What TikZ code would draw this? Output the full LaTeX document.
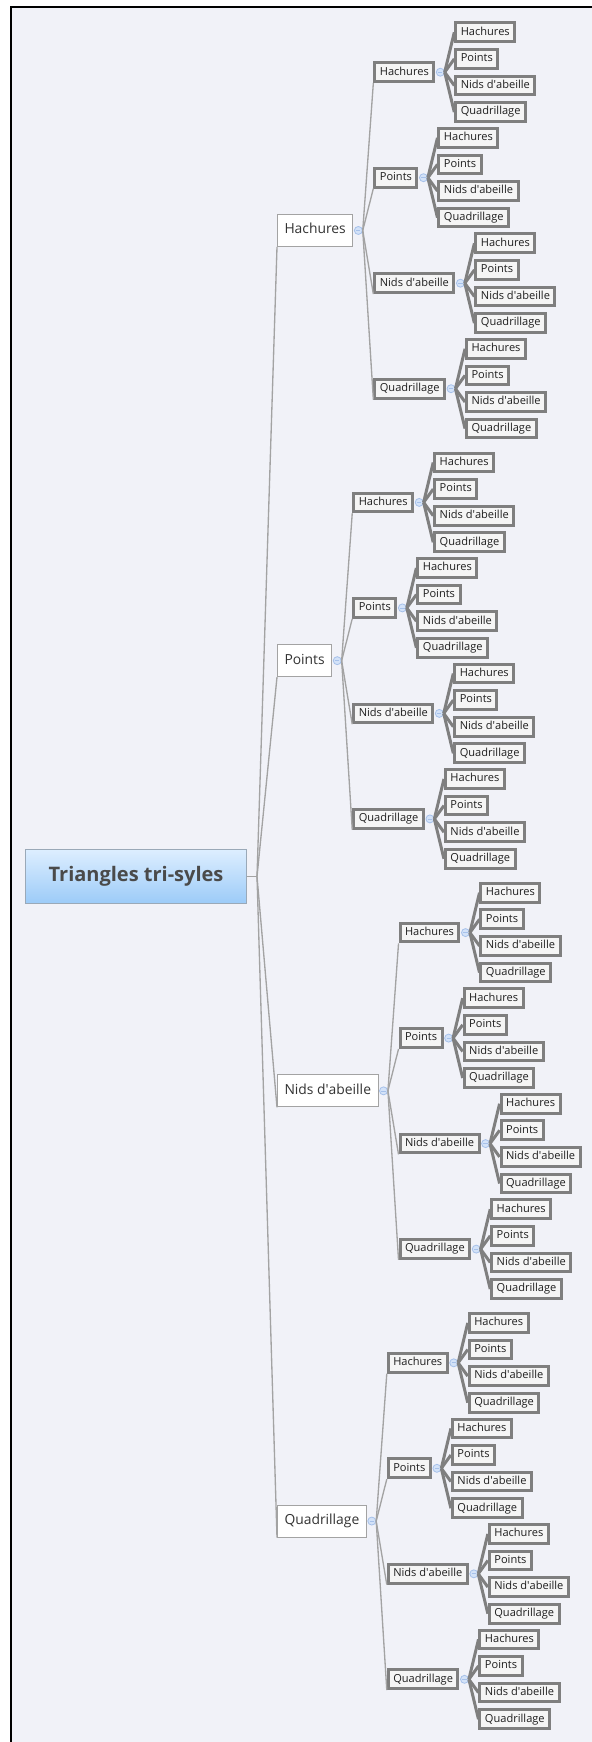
\documentclass[tikz,border=0pt]{standalone}
\usepackage{fontspec}
\setmainfont{Open Sans}
\usepackage{tikz}
\usetikzlibrary{positioning,calc}
\definecolor{Paper}{HTML}{F1F2F8}
\definecolor{RootTop}{HTML}{DDEEFF}
\definecolor{RootBot}{HTML}{9CCBF8}
\definecolor{RootEdge}{HTML}{9AA9B8}
\definecolor{Ink}{HTML}{4A4A4A}
\definecolor{Twig}{HTML}{A3A3A3}
\definecolor{Branch}{HTML}{7F7F7F}
\definecolor{Leaf}{HTML}{F5F5F5}
\definecolor{KnobFill}{HTML}{D3E2F8}
\definecolor{KnobEdge}{HTML}{A6C1EA}
\def\kinds{Hachures,Points,Nids d\textquotesingle abeille,Quadrillage}
\tikzset{
  rootbox/.style={draw=RootEdge,line width=0.75pt,top color=RootTop,bottom color=RootBot,
    minimum width=165.75pt,minimum height=40.5pt,inner sep=0pt,text=Ink,
    font=\fontsize{15}{18}\selectfont\bfseries},
  lonebox/.style={draw=Twig,line width=0.75pt,fill=white,inner xsep=5.25pt,inner ysep=0pt,
    minimum height=24pt,text height=7.6pt,text depth=2.4pt,text=black!80,
    font=\fontsize{10.4}{12}\selectfont},
  leafbox/.style={draw=Branch,line width=2.25pt,fill=Leaf,inner xsep=3.75pt,inner ysep=0pt,
    minimum height=14pt,text height=6.1pt,text depth=1.9pt,text=black!88,
    font=\fontsize{8.3}{10}\selectfont},
  knob/.style={circle,draw=KnobEdge,fill=KnobFill,line width=0.6pt,minimum size=6pt,inner sep=0pt,
    path picture={\draw[KnobEdge,line width=0.5pt]
      ([xshift=-1.6pt]path picture bounding box.center) -- ([xshift=1.6pt]path picture bounding box.center);}},
  twig/.style={draw=Twig,line width=1pt},
  branch/.style={draw=Branch,line width=2.25pt},
}
\begin{document}
\begin{tikzpicture}[x=0.75pt,y=-0.75pt]
  \useasboundingbox (0,0) rectangle (592,1742);
  \fill[white] (0,0) rectangle (592,1742);
  \fill[Paper] (11,7) rectangle (592,1742);
  \draw[black,line width=1.5pt] (11,1742) -- (11,7) -- (592,7);
  % root
  \node[rootbox] (root) at (136,876.5) {Triangles tri-syles};
  \coordinate (hub) at ($(root.east)+(10,0)$);
  \draw[twig] (root.east) -- (hub);
  % three levels of styles
  \foreach \na [count=\i] in \kinds {
    \pgfmathsetmacro\ya{230.45+430.2*(\i-1)}
    \node[lonebox,anchor=west] (a\i) at (277,\ya) {\na};
    \draw[twig] (hub) -- (a\i.south west);
    \node[knob] (ka\i) at ($(a\i.east)+(5,0)$) {};
    \coordinate (xa\i) at ($(a\i.east)+(20,0)$);
    \foreach \nb [count=\j] in \kinds {
      \pgfmathsetmacro\yb{\ya+105.5*(\j-2.5)}
      \node[leafbox,anchor=west] (b\i\j) at (xa\i |- 0,\yb) {\nb};
      \draw[twig] (ka\i.east) -- (b\i\j.south west);
      \node[knob] (kb\i\j) at ($(b\i\j.east)+(5,0)$) {};
      \coordinate (xb\i\j) at ($(b\i\j.east)+(19,0)$);
      \foreach \nc [count=\k] in \kinds {
        \pgfmathsetmacro\yc{\yb+26.6*(\k-2.5)}
        \node[leafbox,anchor=west] (c\i\j\k) at (xb\i\j |- 0,\yc) {\nc};
        \draw[branch] (kb\i\j.east) -- (c\i\j\k.west);
      }
    }
  }
\end{tikzpicture}
\end{document}
